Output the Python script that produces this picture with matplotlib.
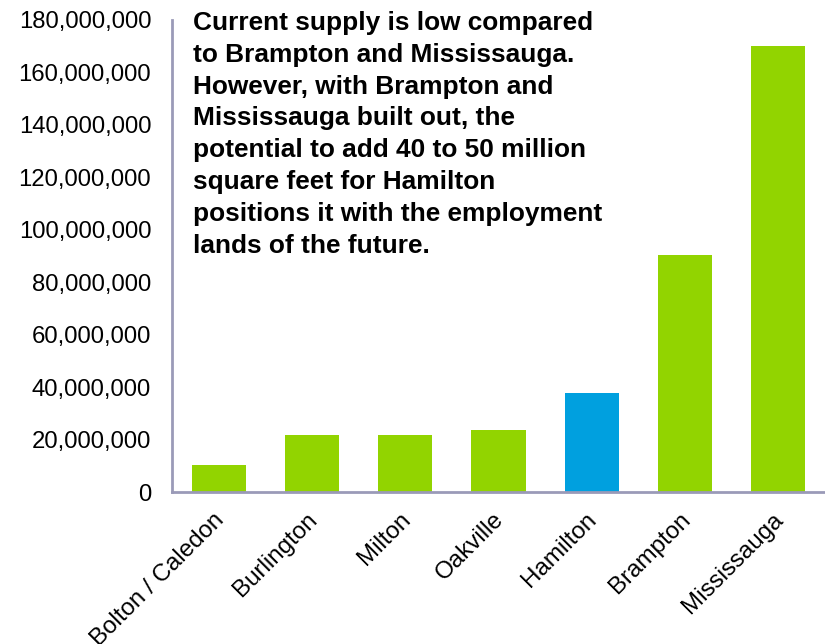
import matplotlib.pyplot as plt
from matplotlib.ticker import FuncFormatter
from matplotlib.transforms import ScaledTranslation

plt.rcParams['font.family'] = ['Liberation Sans', 'DejaVu Sans']

cities = ["Bolton / Caledon", "Burlington", "Milton", "Oakville",
          "Hamilton", "Brampton", "Mississauga"]
supply = [10300000, 21700000, 21700000, 23600000,
          37800000, 90400000, 170100000]
highlight = "Hamilton"

green = "#92D400"
blue = "#00A0DF"
axis_col = "#9A9AB8"

colors = [blue if c == highlight else green for c in cities]

fig = plt.figure(figsize=(8.25, 6.44), dpi=100)
ax = fig.add_axes([0.2085, 0.236, 0.7915, 0.733])

x = range(len(cities))
ax.bar(x, supply, width=0.58, color=colors)

ax.set_xlim(-0.5, len(cities) - 0.5)
ax.set_ylim(0, 180000000)
ax.set_yticks(range(0, 180000001, 20000000))
ax.yaxis.set_major_formatter(FuncFormatter(lambda v, p: f"{int(v):,}"))

for s in ["top", "right"]:
    ax.spines[s].set_visible(False)
for s in ["left", "bottom"]:
    ax.spines[s].set_color(axis_col)
    ax.spines[s].set_linewidth(2)

ax.tick_params(axis="y", length=0, pad=15, labelsize=17.2, colors="black")
ax.tick_params(axis="x", length=0, pad=12, labelsize=17.4)
ax.set_xticks(list(x))
ax.set_xticklabels(cities, rotation=45, ha="right", va="top",
                   rotation_mode="anchor")
# nudge the slanted labels a little to the left
shift = ScaledTranslation(-6 / 100, 0, fig.dpi_scale_trans)
for lab in ax.get_xticklabels():
    lab.set_transform(lab.get_transform() + shift)

note = ("Current supply is low compared\n"
        "to Brampton and Mississauga.\n"
        "However, with Brampton and\n"
        "Mississauga built out, the\n"
        "potential to add 40 to 50 million\n"
        "square feet for Hamilton\n"
        "positions it with the employment\n"
        "lands of the future.")
fig.text(193 / 825, 1 - 11 / 644, note, fontsize=18.9, fontweight="bold",
         va="top", ha="left", linespacing=1.41)

fig.savefig("out.png", dpi=100)
